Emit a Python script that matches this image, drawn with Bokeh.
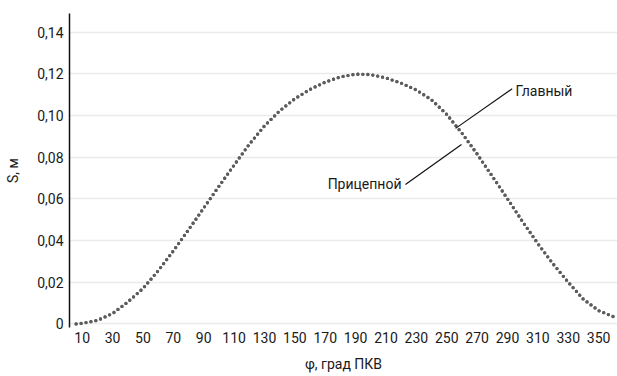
from bokeh.plotting import figure
from bokeh.models import FixedTicker, Label
from bokeh.embed import file_html
from bokeh.resources import INLINE

# --- data ---
phi = [6, 10, 20, 30, 40, 50, 60, 70, 80, 90, 100, 110, 120, 130, 140, 150, 160, 170,
       180, 190, 200, 210, 220, 230, 240, 250, 260, 270, 280, 290, 300, 310, 320, 330,
       340, 350, 360]
s_glavny = [0.0, 0.0003, 0.0017, 0.0050, 0.0105, 0.0170, 0.0255, 0.0350, 0.0452, 0.0556,
            0.0660, 0.0762, 0.0862, 0.0950, 0.1022, 0.1080, 0.1125, 0.1160, 0.1185, 0.1198,
            0.1196, 0.1180, 0.1155, 0.1122, 0.1075, 0.1005, 0.0915, 0.0815, 0.0708, 0.0600,
            0.0490, 0.0385, 0.0288, 0.0200, 0.0118, 0.0064, 0.0034]
s_pritsepnoy = list(s_glavny)

x_ticks = [10, 30, 50, 70, 90, 110, 130, 150, 170, 190, 210, 230, 250, 270, 290, 310, 330, 350]
y_ticks = [0, 0.02, 0.04, 0.06, 0.08, 0.10, 0.12, 0.14]
y_tick_labels = ["0", "0,02", "0,04", "0,06", "0,08", "0,10", "0,12", "0,14"]

series_names = ["Главный", "Прицепной"]
x_title = "φ, град ПКВ"
y_title = "S, м"

FONT = "Roboto"
FS = "14px"
TXT = "#1a1a1a"

p = figure(width=617, height=376, output_backend="svg", toolbar_location=None,
           x_range=(1.64, 362.4), y_range=(-0.0017, 0.1489),
           min_border_left=69, min_border_right=0, min_border_top=13, min_border_bottom=49)
p.outline_line_color = None
p.background_fill_color = "white"

# curves (dotted)
for ys in (s_glavny, s_pritsepnoy):
    p.line(phi, ys, line_color="#5c5c5c", line_width=3.3, line_dash="0 5", line_cap="round")

# axes
p.xaxis.ticker = FixedTicker(ticks=x_ticks)
p.yaxis.ticker = FixedTicker(ticks=y_ticks)
p.yaxis.major_label_overrides = {t: l for t, l in zip(y_ticks, y_tick_labels)}
p.xgrid.grid_line_color = None
p.ygrid.grid_line_color = "#ebebeb"
p.ygrid.grid_line_width = 1.5
p.ygrid.ticker = FixedTicker(ticks=y_ticks)

for ax in (p.xaxis[0], p.yaxis[0]):
    ax.major_tick_line_color = None
    ax.minor_tick_line_color = None
    ax.major_tick_out = 0
    ax.major_tick_in = 0
    ax.major_label_text_font = FONT
    ax.major_label_text_font_size = FS
    ax.major_label_text_color = TXT
    ax.axis_label_text_font = FONT
    ax.axis_label_text_font_size = FS
    ax.axis_label_text_font_style = "normal"
    ax.axis_label_text_color = TXT

p.xaxis.axis_line_color = None
p.xaxis.major_label_standoff = 4
p.xaxis.axis_label = x_title
p.xaxis.axis_label_standoff = 10

p.yaxis.axis_line_color = "#111111"
p.yaxis.axis_line_width = 1.5
p.yaxis.major_label_standoff = 6
p.yaxis.axis_label = y_title
p.yaxis.axis_label_standoff = 13

# annotations: leader lines and labels
lead_x0 = [293.1, 222.8]
lead_y0 = [0.1128, 0.0669]
lead_x1 = [255.8, 259.7]
lead_y1 = [0.0938, 0.0861]
p.segment(x0=lead_x0, y0=lead_y0, x1=lead_x1, y1=lead_y1, line_color="#111111", line_width=1.2)

lab_x = [295.3, 220.2]
lab_y = [0.1117, 0.0669]
lab_align = ["left", "right"]
for name, lx, ly, al in zip(series_names, lab_x, lab_y, lab_align):
    p.add_layout(Label(x=lx, y=ly, text=name, text_font=FONT, text_font_size=FS,
                       text_color=TXT, text_align=al, text_baseline="middle"))

open("out.html", "w").write(file_html(p, INLINE))
